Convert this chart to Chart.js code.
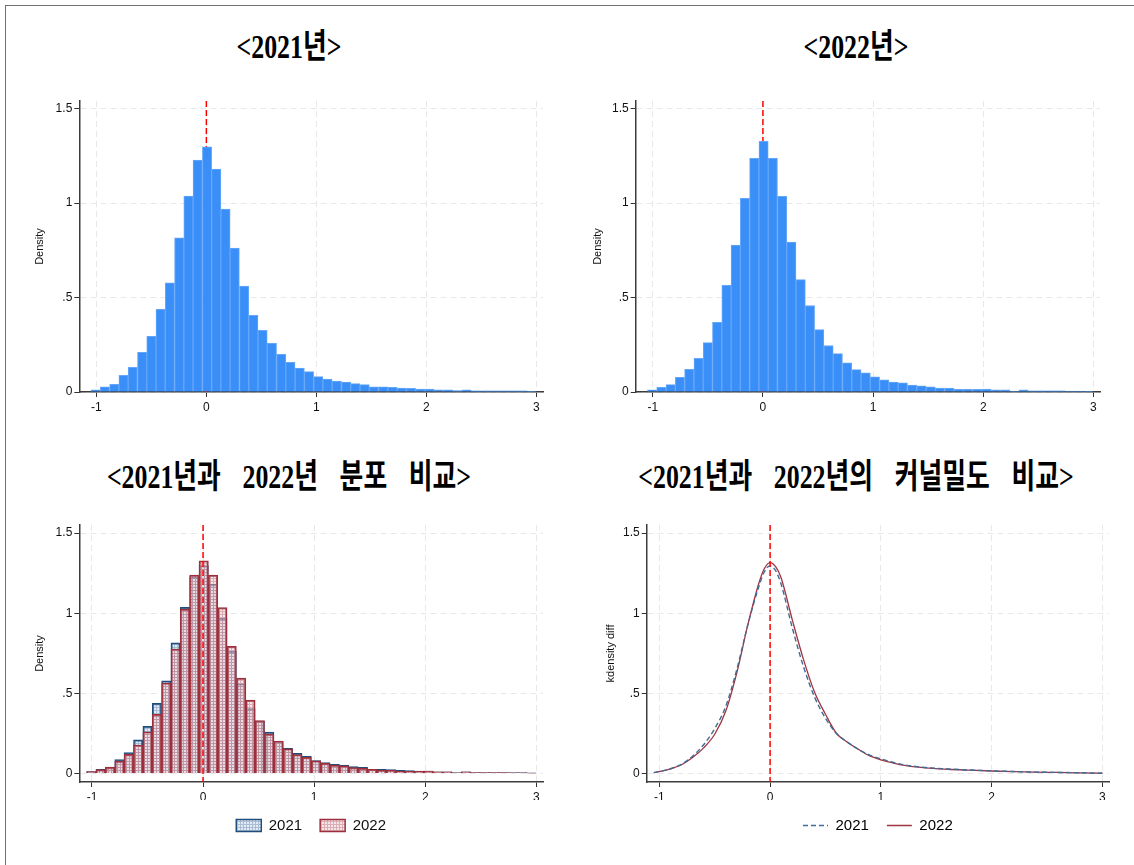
<!DOCTYPE html>
<html>
<head>
<meta charset="utf-8">
<script src="https://cdn.jsdelivr.net/npm/chart.js@4"></script>
<style>
  body { margin: 0; background: #fff; overflow: hidden; }
  #page { position: relative; width: 1134px; height: 865px; overflow: hidden; background: #fff; }
  #frame { position: absolute; left: 5px; top: 5px; right: -10px; bottom: -10px;
           border-left: 1.5px solid #707070; border-top: 1.5px solid #707070; }
  .title { position: absolute; white-space: nowrap; line-height: 1; color: #000;
           font-family: "Liberation Serif", "Noto Sans CJK KR", serif; font-weight: bold; font-size: 34px;
           word-spacing: 20px; transform: translate(-50%, -50%) scaleX(0.76); }
  canvas { position: absolute; }
</style>
</head>
<body>
<div id="page">
  <div id="frame"></div>
  <div class="title" style="left:289px; top:47px">&lt;2021년&gt;</div>
  <div class="title" style="left:856px; top:47px">&lt;2022년&gt;</div>
  <div class="title" style="left:289px; top:477px">&lt;2021년과 2022년 분포 비교&gt;</div>
  <div class="title" style="left:856px; top:477px">&lt;2021년과 2022년의 커널밀도 비교&gt;</div>

  <canvas id="h2021" width="527" height="327" style="left:33px; top:90px"></canvas>
  <canvas id="h2022" width="526" height="327" style="left:591px; top:90px"></canvas>
  <canvas id="hBoth" width="556" height="328" style="left:33px; top:515px"></canvas>
  <canvas id="kde" width="525" height="328" style="left:604px; top:515px"></canvas>
</div>

<script>
// histogram bin centres (same bins for both years)
const binCenters = [
  -1.006, -0.922, -0.837, -0.753, -0.669, -0.584, -0.500, -0.416, -0.331, -0.247,
  -0.163, -0.079, 0.006, 0.090, 0.174, 0.258, 0.343, 0.427, 0.511, 0.596,
  0.680, 0.764, 0.849, 0.933, 1.017, 1.101, 1.186, 1.270, 1.354, 1.439,
  1.523, 1.607, 1.692, 1.776, 1.860, 1.945, 2.029, 2.113, 2.198, 2.282,
  2.366, 2.450, 2.535, 2.619, 2.703, 2.788, 2.872, 2.956
];

// histogram densities
const density2021 = [
  0.012, 0.027, 0.041, 0.088, 0.131, 0.210, 0.295, 0.438, 0.578, 0.816,
  1.037, 1.228, 1.297, 1.180, 0.968, 0.762, 0.560, 0.406, 0.327, 0.258,
  0.200, 0.157, 0.127, 0.108, 0.081, 0.069, 0.058, 0.053, 0.044, 0.039,
  0.027, 0.027, 0.025, 0.021, 0.019, 0.016, 0.016, 0.011, 0.011, 0.007,
  0.011, 0.006, 0.006, 0.006, 0.006, 0.006, 0.006, 0.004
];
const density2022 = [
  0.012, 0.025, 0.039, 0.078, 0.120, 0.178, 0.261, 0.369, 0.565, 0.777,
  1.025, 1.237, 1.327, 1.237, 1.035, 0.793, 0.595, 0.458, 0.330, 0.246,
  0.203, 0.155, 0.118, 0.101, 0.080, 0.064, 0.053, 0.048, 0.037, 0.032,
  0.027, 0.021, 0.021, 0.014, 0.014, 0.014, 0.016, 0.011, 0.011, 0.005,
  0.011, 0.006, 0.006, 0.006, 0.006, 0.005, 0.005, 0.002
];

// kernel density curves
const kdeX = [
  -1.05, -0.95, -0.9, -0.8, -0.7, -0.6, -0.5, -0.4, -0.3, -0.2, -0.1, -0.05, 0, 0.05, 0.1,
  0.2, 0.3, 0.4, 0.5, 0.6, 0.7, 0.8, 0.9, 1.0, 1.1, 1.2, 1.4, 1.6, 1.8, 2.0, 2.2, 2.4, 2.6, 2.8, 3.0
];
const kde2021 = [
  0.006, 0.020, 0.030, 0.058, 0.108, 0.180, 0.280, 0.420, 0.650, 0.930, 1.170, 1.260, 1.295, 1.265, 1.180,
  0.910, 0.670, 0.480, 0.345, 0.250, 0.195, 0.150, 0.115, 0.092, 0.072, 0.056, 0.038, 0.029, 0.022, 0.017,
  0.013, 0.009, 0.007, 0.005, 0.002
];
const kde2022 = [
  0.006, 0.020, 0.029, 0.055, 0.100, 0.160, 0.245, 0.390, 0.630, 0.930, 1.190, 1.280, 1.316, 1.290, 1.220,
  0.960, 0.715, 0.510, 0.370, 0.250, 0.195, 0.150, 0.110, 0.086, 0.068, 0.053, 0.036, 0.027, 0.021, 0.016,
  0.012, 0.009, 0.007, 0.005, 0.002
];

const years = ['2021', '2022'];
const xTicks = [-1, 0, 1, 2, 3];
const yTicks = [0, 0.5, 1, 1.5];

Chart.defaults.font.family = '"Liberation Sans", Arial, sans-serif';
Chart.defaults.color = '#111';
Chart.defaults.animation = false;
Chart.defaults.responsive = false;

// ".5" instead of "0.5"
const fmt = v => String(v).replace(/^0\./, '.');

const gridOpts = { color: '#e8e8e8', lineWidth: 1, offset: false, tickLength: 5, tickColor: '#333', tickWidth: 1 };
const borderOpts = { color: '#3c3c3c', width: 1.5, dash: [6, 4] };

function xAxis(min, max, h) {
  return {
    type: 'linear', min: min, max: max, offset: false,
    afterBuildTicks: s => { s.ticks = xTicks.map(v => ({ value: v })); },
    afterFit: s => { s.height = h; },
    grid: gridOpts, border: borderOpts,
    ticks: { font: { size: 12 }, padding: 3, maxRotation: 0, callback: fmt }
  };
}

function yAxis(min, max, w, title) {
  return {
    type: 'linear', min: min, max: max,
    afterBuildTicks: s => { s.ticks = yTicks.map(v => ({ value: v })); },
    afterFit: s => { s.width = w; },
    grid: gridOpts, border: borderOpts,
    ticks: { font: { size: 12 }, padding: 2, callback: fmt },
    title: { display: true, text: title, font: { size: 11 }, padding: 0, color: '#111' }
  };
}

// red dashed reference line at x = 0
function zeroLine(behind) {
  const draw = chart => {
    const { ctx, chartArea, scales } = chart;
    const px = scales.x.getPixelForValue(0);
    ctx.save();
    ctx.strokeStyle = '#ff0000';
    ctx.lineWidth = 1.5;
    ctx.setLineDash([6, 3]);
    ctx.beginPath();
    ctx.moveTo(px, chartArea.top);
    ctx.lineTo(px, chartArea.bottom);
    ctx.stroke();
    ctx.restore();
  };
  return behind ? { id: 'zeroLine', beforeDatasetsDraw: draw } : { id: 'zeroLine', afterDatasetsDraw: draw };
}

// small grid pattern for the overlaid histograms
function hatch(bg, line) {
  const c = document.createElement('canvas');
  c.width = 3; c.height = 3;
  const g = c.getContext('2d');
  g.fillStyle = bg; g.fillRect(0, 0, 3, 3);
  g.fillStyle = line; g.fillRect(0, 0, 3, 1); g.fillRect(0, 1, 1, 2);
  return g.createPattern(c, 'repeat');
}

const points = (xs, ys) => xs.map((x, i) => ({ x: x, y: ys[i] }));

function histChart(id, label, values, yW, padRight) {
  return new Chart(document.getElementById(id), {
    type: 'bar',
    data: {
      datasets: [{
        label: label,
        data: points(binCenters, values),
        backgroundColor: '#3a8ef7',
        borderColor: '#64a7fa',
        borderWidth: 1,
        barPercentage: 1,
        categoryPercentage: 1
      }]
    },
    options: {
      layout: { padding: { top: 11, right: padRight, bottom: 0, left: 0 } },
      plugins: { legend: { display: false }, tooltip: { enabled: false } },
      scales: { x: xAxis(-1.155, 3.06, 25), y: yAxis(0, 1.54, yW, 'Density') }
    },
    plugins: [zeroLine(true)]
  });
}

histChart('h2021', years[0], density2021, 46.3, 17);
histChart('h2022', years[1], density2022, 44.7, 17);

// legend sits under the plot area only, centred on it
const legendBase = {
  position: 'bottom',
  fullSize: false,
  labels: {
    font: { size: 15 }, color: '#111', padding: 18,
    sort: (a, b) => a.datasetIndex - b.datasetIndex
  }
};

new Chart(document.getElementById('hBoth'), {
  type: 'bar',
  data: {
    datasets: [{
      label: years[0],
      data: points(binCenters, density2021),
      backgroundColor: hatch('rgba(200,216,236,0.5)', 'rgba(60,100,150,0.35)'),
      borderColor: '#1f4e7d',
      borderWidth: 1.5,
      grouped: false,
      order: 1,
      barPercentage: 1,
      categoryPercentage: 1
    }, {
      label: years[1],
      data: points(binCenters, density2022),
      backgroundColor: hatch('rgba(238,205,212,0.5)', 'rgba(170,70,85,0.35)'),
      borderColor: '#9c2f3b',
      borderWidth: 1.5,
      grouped: false,
      order: 0,
      barPercentage: 1,
      categoryPercentage: 1
    }]
  },
  options: {
    layout: { padding: { top: 10, right: 46, bottom: 0, left: 0 } },
    plugins: {
      legend: Object.assign({}, legendBase, {
        labels: Object.assign({ boxWidth: 25, boxHeight: 12 }, legendBase.labels)
      }),
      tooltip: { enabled: false }
    },
    scales: { x: xAxis(-1.114, 3.06, 18), y: yAxis(-0.0525, 1.55, 46.3, 'Density') }
  },
  plugins: [zeroLine(false)]
});

new Chart(document.getElementById('kde'), {
  type: 'line',
  data: {
    datasets: [{
      label: years[0],
      data: points(kdeX, kde2021),
      borderColor: '#3f6b96',
      borderWidth: 1.4,
      borderDash: [5, 3],
      pointRadius: 0,
      cubicInterpolationMode: 'monotone'
    }, {
      label: years[1],
      data: points(kdeX, kde2022),
      borderColor: '#9e3540',
      borderWidth: 1.3,
      pointRadius: 0,
      cubicInterpolationMode: 'monotone'
    }]
  },
  options: {
    layout: { padding: { top: 10, right: 20, bottom: 0, left: 0 } },
    plugins: {
      legend: Object.assign({}, legendBase, {
        labels: Object.assign({
          usePointStyle: true,
          pointStyleWidth: 25,
          generateLabels: chart => chart.data.datasets.map((ds, i) => ({
            text: ds.label,
            strokeStyle: ds.borderColor,
            fillStyle: ds.borderColor,
            lineWidth: ds.borderWidth,
            lineDash: ds.borderDash || [],
            pointStyle: 'line',
            datasetIndex: i,
            hidden: false
          }))
        }, legendBase.labels)
      }),
      tooltip: { enabled: false }
    },
    scales: { x: xAxis(-1.114, 3.06, 18), y: yAxis(-0.0525, 1.55, 42.7, 'kdensity diff') }
  },
  plugins: [zeroLine(false)]
});
</script>
</body>
</html>
